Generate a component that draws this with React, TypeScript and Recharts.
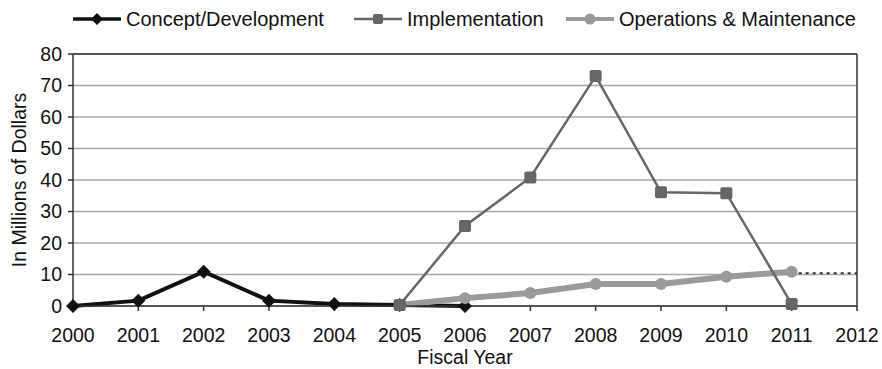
import { LineChart, Line, XAxis, YAxis, CartesianGrid, ReferenceLine, Label } from 'recharts';

const FONT = '"Liberation Sans", Arial, Helvetica, sans-serif';

const YEARS = [2000, 2001, 2002, 2003, 2004, 2005, 2006, 2007, 2008, 2009, 2010, 2011, 2012];
const CONCEPT = [0, 1.7, 10.9, 1.7, 0.6, 0.3, 0, null, null, null, null, null, null];
const IMPLEMENTATION = [null, null, null, null, null, 0.3, 25.4, 40.8, 73.0, 36.1, 35.8, 0.6, null];
const OPERATIONS = [null, null, null, null, null, 0.3, 2.5, 4.1, 7.0, 7.0, 9.3, 10.9, null];
const OPERATIONS_PROJECTED = [null, null, null, null, null, null, null, null, null, null, null, 10.4, 10.4];
const Y_TICKS = [0, 10, 20, 30, 40, 50, 60, 70, 80];

const data = YEARS.map((year, i) => ({
  year,
  concept: CONCEPT[i],
  implementation: IMPLEMENTATION[i],
  operations: OPERATIONS[i],
  projected: OPERATIONS_PROJECTED[i],
}));

const C_CONCEPT = '#111111';
const C_IMPL = '#666666';
const C_OPS = '#9a9a9a';

// custom marker shapes
const Diamond = (props: any) => {
  const { cx, cy } = props;
  if (cx == null || cy == null || props.value == null) return <g key={props.key} />;
  const r = 7;
  return (
    <polygon
      key={props.key}
      points={`${cx},${cy - r} ${cx + r},${cy} ${cx},${cy + r} ${cx - r},${cy}`}
      fill={C_CONCEPT}
    />
  );
};

const Square = (props: any) => {
  const { cx, cy } = props;
  if (cx == null || cy == null || props.value == null) return <g key={props.key} />;
  const s = 6;
  return <rect key={props.key} x={cx - s} y={cy - s} width={s * 2} height={s * 2} rx={2} fill={C_IMPL} />;
};

const Circle = (props: any) => {
  const { cx, cy } = props;
  if (cx == null || cy == null || props.value == null) return <g key={props.key} />;
  return <circle key={props.key} cx={cx} cy={cy} r={6} fill={C_OPS} />;
};

function LegendIcon({ color, width, marker }: { color: string; width: number; marker: string }) {
  return (
    <svg width={48} height={20} style={{ display: 'block' }}>
      <line x1={0} y1={10} x2={48} y2={10} stroke={color} strokeWidth={width} />
      {marker === 'diamond' && <polygon points="24,4 30,10 24,16 18,10" fill={color} />}
      {marker === 'square' && <rect x={19} y={5} width={10} height={10} rx={2} fill={color} />}
      {marker === 'circle' && <circle cx={24} cy={10} r={5.5} fill={color} />}
    </svg>
  );
}

const legendItems = [
  { label: 'Concept/Development', color: C_CONCEPT, width: 3.5, marker: 'diamond', left: 73 },
  { label: 'Implementation', color: C_IMPL, width: 2.5, marker: 'square', left: 354 },
  { label: 'Operations & Maintenance', color: C_OPS, width: 4, marker: 'circle', left: 566 },
];

export default function App() {
  return (
    <div style={{ position: 'absolute', left: 0, top: 0, width: 882, height: 369, background: '#fff', fontFamily: FONT }}>
      {legendItems.map((item) => (
        <div
          key={item.label}
          style={{ position: 'absolute', top: 8, left: item.left, display: 'flex', alignItems: 'center', gap: 5, fontSize: 20, lineHeight: '22px', color: '#111' }}
        >
          <LegendIcon color={item.color} width={item.width} marker={item.marker} />
          <span>{item.label}</span>
        </div>
      ))}
      <LineChart width={882} height={369} data={data} margin={{ top: 54, right: 25, left: 0, bottom: 0 }}>
        <CartesianGrid vertical={false} stroke="#a8a8a8" strokeWidth={1.5} />
        <XAxis
          dataKey="year"
          type="number"
          domain={[2000, 2012]}
          ticks={YEARS}
          interval={0}
          height={63}
          tickSize={5}
          tickMargin={17}
          stroke="#333"
          strokeWidth={1.5}
          tick={{ fill: '#111', fontSize: 19.5, fontFamily: FONT }}
        >
          <Label value="Fiscal Year" position="insideBottom" offset={5} fill="#111" fontSize={19.5} fontFamily={FONT} />
        </XAxis>
        <YAxis
          type="number"
          domain={[0, 80]}
          ticks={Y_TICKS}
          interval={0}
          width={73}
          tickSize={5}
          tickMargin={6}
          stroke="#333"
          strokeWidth={1.5}
          tick={{ fill: '#111', fontSize: 19.5, fontFamily: FONT }}
        >
          <Label
            content={(props: any) => {
              const vb = props.viewBox || {};
              const x = (vb.x ?? 0) + 19;
              const y = (vb.y ?? 54) + (vb.height ?? 252) / 2;
              return (
                <text x={x} y={y} transform={`rotate(-90 ${x} ${y})`} textAnchor="middle" dominantBaseline="central" fill="#111" fontSize={19.5} fontFamily={FONT}>
                  In Millions of Dollars
                </text>
              );
            }}
          />
        </YAxis>
        <ReferenceLine y={80} stroke="#333" strokeWidth={1.5} />
        <ReferenceLine x={2012} stroke="#333" strokeWidth={1.5} />
        <Line dataKey="projected" stroke="#333" strokeWidth={2} strokeDasharray="3 4" dot={false} isAnimationActive={false} />
        <Line dataKey="concept" stroke={C_CONCEPT} strokeWidth={4} dot={Diamond} activeDot={false} isAnimationActive={false} />
        <Line dataKey="operations" stroke={C_OPS} strokeWidth={6} dot={Circle} activeDot={false} isAnimationActive={false} />
        <Line dataKey="implementation" stroke={C_IMPL} strokeWidth={2.5} dot={Square} activeDot={false} isAnimationActive={false} />
      </LineChart>
    </div>
  );
}
